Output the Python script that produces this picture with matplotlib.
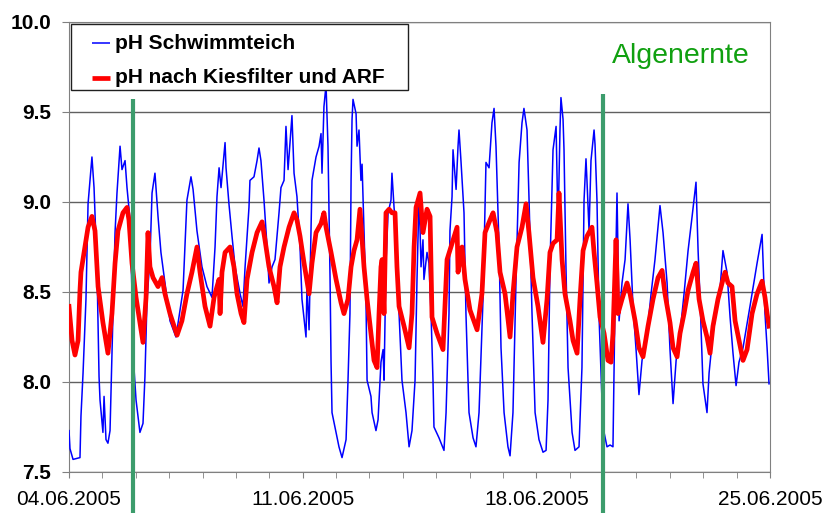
import numpy as np
import matplotlib
matplotlib.use("Agg")
import matplotlib.pyplot as plt
from matplotlib.patches import Rectangle

plt.rcParams['font.family'] = ['Liberation Sans', 'DejaVu Sans']

# hours since 04.06.2005 00:00, pH of the pond (blue)
teich_h = [
    0, 0.7, 2.9, 7.9, 8.6, 10.1, 12.2, 13.7, 16.5, 18,
    20.1, 21.6, 22.3, 24.4, 25.2, 26.6, 28, 29.5, 30.9, 33.1,
    34.5, 36.7, 38.1, 40.3, 41.7, 43.9, 45.3, 46.7, 48.2, 51,
    53.2, 54.6, 56.1, 58.2, 59.7, 61.8, 64, 66.1, 69, 72.6,
    76.9, 82, 84.8, 87.7, 89.2, 92, 95.6, 99.2, 102.8, 105,
    106.4, 107.9, 109.3, 112.2, 112.9, 115, 117.2, 119.4, 123, 125.1,
    126.6, 129.4, 130.1, 133, 135.2, 136.6, 138, 140.2, 142.4, 143.8,
    146, 148.1, 151, 152.4, 154.6, 156, 157.5, 160.3, 161.8, 163.9,
    166.1, 167.5, 170.4, 171.1, 172.6, 174.7, 177.6, 179.8, 181.2, 181.9,
    183.3, 184.8, 186.2, 187.7, 188.4, 189.1, 192, 194.1, 196.3, 199.2,
    200.6, 202, 202.8, 203.5, 204.2, 206.4, 207.1, 208.5, 209.9, 210.7,
    212.1, 213.5, 214.3, 217.1, 217.9, 220.7, 222.2, 224.3, 225.8, 226.5,
    227.9, 229.4, 231.5, 232.2, 233.7, 235.1, 237.3, 239.4, 242.3, 244.5,
    246.6, 248.8, 250.2, 251.7, 253.1, 254.5, 255.2, 257.4, 258.8, 260.3,
    261.7, 262.4, 266, 269.6, 271.1, 273.2, 273.9, 275.4, 276.1, 278.3,
    279.7, 280.4, 281.8, 284, 285.4, 287.6, 290.5, 292.6, 294.8, 297.7,
    299.8, 302, 304.1, 305.6, 307, 309.2, 310.6, 312.8, 315.6, 317.1,
    319.2, 321.4, 323.6, 325.7, 327.1, 329.3, 330.7, 332.9, 335.1, 337.9,
    340.8, 343, 344.4, 345.8, 348, 350.2, 351.6, 353, 353.7, 355.2,
    355.9, 357.3, 358.8, 361.7, 363.8, 366.7, 368.8, 370.3, 371.7, 372.4,
    373.9, 375.3, 377.5, 378.2, 379.6, 381.1, 383.2, 384.7, 386.8, 389,
    391.1, 392.6, 394, 395.5, 397.6, 399.8, 401.9, 403.4, 405.5, 407.7,
    409.8, 412, 415.6, 418.5, 421.3, 424.9, 427.1, 430, 432.1, 434.3,
    436.5, 439.3, 442.2, 445.1, 448, 450.8, 452.3, 453.7, 455.8, 458.7,
    460.2, 463, 465.9, 468, 470.2, 473.1, 475.3, 477.4, 479.6, 481.7,
    484.6, 489.6, 494.7, 498.3, 500.4, 501.9, 503.3,
]
teich_ph = [
    7.73, 7.63, 7.57, 7.58, 7.81, 8.05, 8.46, 8.99, 9.25, 9.08,
    8.64, 8.03, 7.90, 7.72, 7.92, 7.68, 7.66, 7.73, 8.16, 8.83,
    9.05, 9.31, 9.18, 9.23, 9.08, 8.90, 8.49, 8.08, 7.90, 7.72,
    7.77, 8.03, 8.46, 8.68, 9.05, 9.16, 8.92, 8.72, 8.55, 8.34,
    8.25, 8.51, 9.01, 9.14, 9.07, 8.84, 8.64, 8.53, 8.47, 8.75,
    9.03, 9.19, 9.08, 9.33, 9.19, 8.99, 8.81, 8.64, 8.49, 8.42,
    8.64, 8.97, 9.12, 9.14, 9.23, 9.30, 9.23, 9.01, 8.75, 8.55,
    8.64, 8.68, 8.94, 9.08, 9.12, 9.42, 9.18, 9.48, 9.16, 9.03,
    8.75, 8.46, 8.25, 8.53, 8.29, 9.12, 9.25, 9.31, 9.38, 9.16,
    9.53, 9.65, 9.31, 8.57, 8.11, 7.83, 7.72, 7.64, 7.58, 7.68,
    8.01, 8.38, 9.12, 9.46, 9.57, 9.49, 9.31, 9.40, 9.12, 9.21,
    8.84, 8.47, 8.01, 7.92, 7.83, 7.73, 7.79, 8.11, 8.18, 8.01,
    8.66, 8.94, 9.01, 9.16, 8.97, 8.84, 8.38, 8.01, 7.83, 7.64,
    7.73, 8.01, 8.57, 9.05, 8.64, 8.79, 8.57, 8.72, 8.66, 8.38,
    8.01, 7.75, 7.69, 7.62, 7.83, 8.38, 8.84, 9.03, 9.29, 9.07,
    9.31, 9.40, 9.23, 8.94, 8.38, 7.83, 7.69, 7.64, 7.83, 8.47,
    9.22, 9.19, 9.44, 9.52, 9.31, 8.75, 8.19, 7.83, 7.64, 7.59,
    7.83, 8.57, 9.22, 9.44, 9.52, 9.40, 9.03, 8.38, 7.83, 7.68,
    7.61, 7.62, 7.90, 8.64, 9.29, 9.42, 8.86, 9.40, 9.58, 9.46,
    9.29, 8.64, 8.08, 7.72, 7.62, 7.64, 8.08, 9.01, 9.24, 9.12,
    8.84, 9.23, 9.40, 9.32, 9.01, 8.36, 7.90, 7.72, 7.64, 7.65,
    7.64, 8.46, 9.05, 8.34, 8.55, 8.68, 8.99, 8.79, 8.42, 8.18,
    7.93, 8.12, 8.27, 8.49, 8.68, 8.98, 8.83, 8.55, 8.18, 7.88,
    8.12, 8.27, 8.49, 8.73, 8.92, 9.11, 8.73, 8.46, 7.99, 7.83,
    8.05, 8.27, 8.42, 8.51, 8.73, 8.61, 8.36, 8.16, 7.98, 8.11,
    8.19, 8.42, 8.66, 8.82, 8.38, 8.19, 7.99,
]

# pH after gravel filter and ARF (red)
filter_h = [
    0, 2.2, 4.3, 6.5, 7.9, 8.6, 11.5, 13.7, 16.5, 18.7,
    20.9, 24.4, 28, 30.9, 33.1, 35.2, 38.8, 41.7, 43.1, 45.3,
    48.2, 51, 53.2, 55.4, 56.8, 58.2, 60.4, 64, 66.9, 69,
    72.6, 77.7, 81.2, 84.8, 88.4, 92, 94.2, 97.8, 101.4, 104.3,
    106.4, 107.9, 108.6, 110, 112.2, 115.8, 118.6, 120.8, 123.7, 125.8,
    128, 131.6, 135.2, 138.8, 140.9, 143.8, 147.4, 149.6, 151.7, 154.6,
    158.2, 161.8, 163.9, 166.1, 169, 172.6, 174.7, 177.6, 181.2, 183.3,
    184.8, 188.4, 192, 195.6, 197.7, 200.6, 202.8, 204.9, 207.1, 209.2,
    210.7, 212.1, 214.3, 217.1, 219.3, 221.5, 222.9, 224.3, 225.1, 226.5,
    227.9, 230.1, 232.2, 234.4, 235.8, 237.3, 240.9, 244.5, 246.6, 248.1,
    249.5, 252.4, 254.5, 257.4, 259.6, 261, 264.6, 268.9, 271.8, 275.4,
    279, 279.7, 282.6, 284.7, 288.3, 293.4, 296.9, 299.1, 302.7, 304.9,
    307.7, 309.9, 313.5, 317.1, 319.2, 322.1, 325.7, 328.6, 330.7, 333.6,
    337.2, 340.8, 343.7, 345.8, 348, 350.9, 352.3, 354.5, 356.6, 360.2,
    362.4, 365.3, 367.4, 369.6, 372.4, 376, 377.5, 379.6, 381.8, 384.7,
    387.5, 389.7, 391.1, 393.3, 394.7, 397.6, 401.2, 403.4, 407, 409.8,
    412.7, 416.3, 419.9, 423.5, 426.4, 428.5, 432.1, 434.3, 437.2, 439.3,
    442.2, 445.1, 448.7, 450.8, 453, 455.8, 458.7, 460.9, 463, 466.6,
    470.2, 471.7, 473.8, 476.7, 478.9, 484.6, 487.5, 491.1, 494.7, 498.3,
    500.4, 501.9, 503.3,
]
filter_ph = [
    8.42, 8.23, 8.15, 8.23, 8.51, 8.61, 8.75, 8.86, 8.92, 8.84,
    8.53, 8.33, 8.16, 8.38, 8.66, 8.84, 8.94, 8.97, 8.90, 8.66,
    8.47, 8.33, 8.22, 8.47, 8.83, 8.64, 8.58, 8.53, 8.58, 8.49,
    8.38, 8.26, 8.34, 8.49, 8.61, 8.75, 8.61, 8.42, 8.31, 8.47,
    8.53, 8.57, 8.38, 8.61, 8.72, 8.75, 8.64, 8.49, 8.38, 8.33,
    8.57, 8.72, 8.83, 8.89, 8.79, 8.64, 8.53, 8.44, 8.64, 8.75,
    8.86, 8.94, 8.90, 8.81, 8.66, 8.49, 8.66, 8.83, 8.88, 8.94,
    8.86, 8.72, 8.57, 8.44, 8.38, 8.46, 8.64, 8.73, 8.79, 8.96,
    8.79, 8.64, 8.46, 8.27, 8.12, 8.08, 8.38, 8.64, 8.68, 8.38,
    8.94, 8.96, 8.94, 8.94, 8.64, 8.42, 8.31, 8.19, 8.38, 8.75,
    8.97, 9.05, 8.83, 8.96, 8.92, 8.36, 8.27, 8.18, 8.68, 8.77,
    8.86, 8.61, 8.75, 8.57, 8.40, 8.29, 8.49, 8.83, 8.90, 8.94,
    8.83, 8.61, 8.49, 8.25, 8.49, 8.75, 8.86, 8.99, 8.83, 8.58,
    8.42, 8.22, 8.46, 8.72, 8.77, 8.79, 9.05, 8.68, 8.49, 8.34,
    8.23, 8.16, 8.46, 8.73, 8.81, 8.86, 8.72, 8.55, 8.36, 8.27,
    8.12, 8.11, 8.27, 8.79, 8.38, 8.46, 8.55, 8.49, 8.34, 8.19,
    8.14, 8.31, 8.46, 8.58, 8.62, 8.49, 8.33, 8.19, 8.14, 8.27,
    8.38, 8.51, 8.61, 8.66, 8.46, 8.34, 8.25, 8.16, 8.31, 8.46,
    8.57, 8.61, 8.55, 8.53, 8.34, 8.12, 8.18, 8.38, 8.49, 8.56,
    8.47, 8.38, 8.31,
]

# algae harvest, in days since 04.06.2005
algen_days = [1.93, 16.0]
algen_top = [9.57, 9.60]

date_ticks = [0, 7, 14, 21]
date_labels = ["04.06.2005", "11.06.2005", "18.06.2005", "25.06.2005"]
legend_labels = ["pH Schwimmteich", "pH nach Kiesfilter und ARF"]

fig = plt.figure(figsize=(8.25, 5.13), dpi=100)
ax = fig.add_axes([69/825, 41/513, 701/825, 450/513])

ax.plot(np.array(teich_h)/24, teich_ph, color='#0000FF', lw=1.1, zorder=3)
ax.plot(np.array(filter_h)/24, filter_ph, color='#FF0000', lw=3.4, zorder=4)

for d, top in zip(algen_days, algen_top):
    ax.plot([d, d], [7.27, top], color='#3C9C6C', lw=3, zorder=5,
            clip_on=False, solid_capstyle='butt')

ax.text(0.775, 0.909, "Algenernte", transform=ax.transAxes, color='#10A010',
        fontsize=20.5, va='baseline', ha='left')

# legend box drawn by hand, Excel style
ax.add_patch(Rectangle((0.0024, 0.849), 0.4812, 0.146, transform=ax.transAxes,
                       facecolor='white', edgecolor='#202020', lw=1, zorder=6))
for yy, col, lw, lab in zip([0.953, 0.876], ['#0000FF', '#FF0000'], [1.1, 3.4],
                            legend_labels):
    ax.plot([0.033, 0.0585], [yy, yy], transform=ax.transAxes, color=col,
            lw=lw, zorder=7, solid_capstyle='butt')
    ax.text(0.0656, yy, lab, transform=ax.transAxes, fontsize=15,
            fontweight='bold', va='center', ha='left', zorder=7)

ax.set_xlim(0, 21)
ax.set_ylim(7.5, 10.0)
ax.set_yticks([7.5, 8.0, 8.5, 9.0, 9.5, 10.0])
ax.set_yticklabels(["7.5", "8.0", "8.5", "9.0", "9.5", "10.0"],
                   fontsize=15, fontweight='bold')
ax.set_xticks(date_ticks)
ax.set_xticklabels(date_labels, fontsize=15)
ax.set_xticks(np.arange(0, 22, 1), minor=True)
ax.tick_params(axis='x', which='both', length=4, color='#808080', pad=9)
ax.tick_params(axis='y', length=5, color='#808080', pad=8)
ax.grid(axis='y', color='#606060', lw=1)
for s in ax.spines.values():
    s.set_color('#808080')

fig.savefig("out.png", dpi=100)
